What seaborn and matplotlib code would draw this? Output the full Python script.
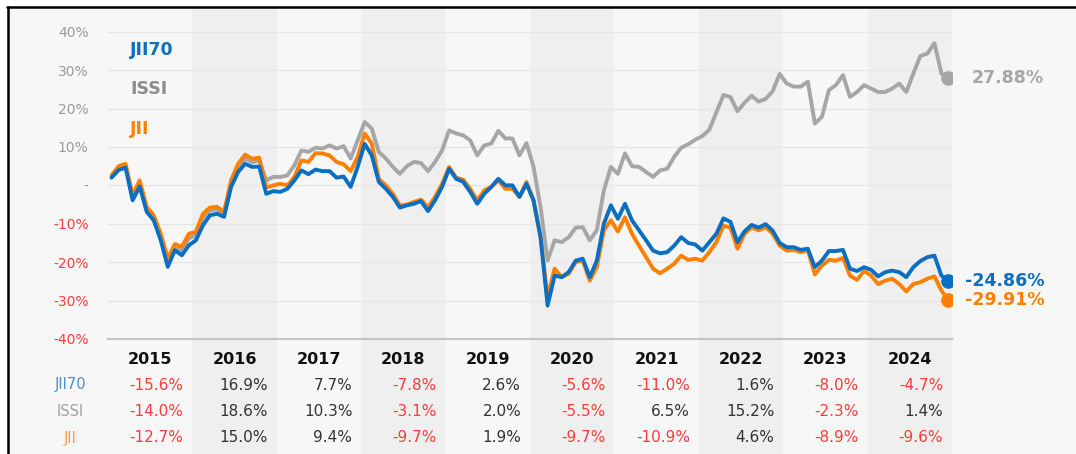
import matplotlib.pyplot as plt
import matplotlib.transforms as mtransforms
from matplotlib.patches import Rectangle
from matplotlib.lines import Line2D
import seaborn as sns
import pandas as pd
import numpy as np

# 데이터: 월별 누적 수익률 (%), 2015.01 ~ 2024.12
years = list(range(2015, 2025))
series_names = ['JII70', 'ISSI', 'JII']
line_colors = {'JII70': '#0a6fc2', 'ISSI': '#a6a6a6', 'JII': '#ff8000'}
label_colors = {'JII70': '#4a90d0', 'ISSI': '#a0a0a0', 'JII': '#ff9a3c'}

jii70 = [2.0, 4.0, 4.6, -3.9, -0.3, -6.9, -9.1, -14.3, -21.2, -16.9, -18.2, -15.6,
         -14.3, -10.4, -7.8, -7.4, -8.2, -0.4, 3.5, 5.6, 4.8, 4.9, -2.2, -1.5,
         -1.7, -0.9, 1.3, 3.9, 2.9, 4.1, 3.7, 3.7, 2.0, 2.3, -0.4, 4.8,
         10.8, 7.8, 0.9, -0.9, -3.0, -5.8, -5.2, -4.8, -4.1, -6.7, -3.9, -0.4,
         4.3, 1.7, 0.9, -1.7, -4.8, -2.2, -0.4, 1.7, 0.0, 0.0, -3.0, 0.4,
         -3.9, -13.5, -31.3, -23.5, -23.9, -22.6, -19.6, -19.1, -23.9, -19.6, -10.0, -5.2,
         -8.7, -4.8, -9.1, -11.7, -14.3, -17.0, -17.7, -17.4, -15.7, -13.5, -15.0, -15.4,
         -17.0, -14.8, -12.6, -8.6, -9.5, -14.8, -12.0, -10.3, -11.0, -10.1, -11.8, -15.0,
         -16.1, -16.1, -16.8, -16.5, -21.3, -19.6, -17.1, -17.1, -16.8, -21.7, -22.3, -21.3,
         -22.0, -23.7, -22.6, -22.2, -22.6, -23.9, -21.3, -19.7, -18.7, -18.3, -23.5, -24.86]

issi = [2.3, 4.5, 5.0, -3.0, 0.8, -6.0, -8.3, -13.2, -20.0, -16.0, -17.0, -13.8,
        -13.0, -8.5, -6.5, -6.3, -7.5, 0.5, 4.5, 7.0, 6.0, 6.5, 1.3, 2.2,
        2.2, 2.6, 5.2, 9.1, 8.7, 9.8, 9.6, 10.4, 9.6, 10.2, 7.0, 11.7,
        16.5, 14.8, 8.7, 7.0, 4.8, 3.0, 5.0, 6.1, 5.8, 3.7, 6.1, 9.1,
        14.3, 13.5, 13.0, 11.7, 7.8, 10.4, 10.9, 14.2, 12.2, 12.2, 7.8, 11.0,
        4.8, -5.7, -19.6, -14.3, -14.8, -13.5, -11.0, -10.9, -14.3, -11.7, -1.3, 4.8,
        3.0, 8.3, 5.0, 4.8, 3.5, 2.2, 3.9, 4.3, 7.4, 9.8, 10.7, 11.9,
        12.8, 14.5, 19.0, 23.5, 23.0, 19.3, 21.5, 23.3, 21.8, 22.5, 24.5, 29.0,
        26.5, 25.7, 25.7, 27.0, 16.1, 17.8, 24.8, 26.1, 28.7, 23.0, 24.3, 26.1,
        25.2, 24.3, 24.3, 25.2, 26.5, 24.3, 29.1, 33.7, 34.3, 37.0, 29.1, 27.88]

jii = [2.6, 5.0, 5.6, -2.6, 1.3, -5.6, -7.8, -12.6, -19.0, -15.3, -16.0, -12.6,
       -12.1, -7.4, -5.8, -5.6, -6.9, 1.3, 5.6, 8.0, 6.9, 7.2, -0.6, 0.0,
       0.4, 0.0, 2.2, 6.5, 6.1, 8.4, 8.3, 7.8, 6.1, 5.5, 3.7, 7.4,
       13.5, 10.9, 1.7, 0.0, -2.2, -5.2, -5.0, -4.3, -3.7, -5.7, -3.0, 0.4,
       4.8, 2.0, 1.5, -0.9, -3.9, -1.3, -0.4, 1.3, -0.9, -0.9, -3.0, 0.9,
       -3.9, -13.5, -29.1, -21.7, -23.9, -23.0, -20.0, -19.6, -24.8, -21.3, -11.7, -9.1,
       -12.0, -8.3, -12.6, -15.7, -18.7, -21.7, -22.9, -21.7, -20.4, -18.3, -19.4, -19.1,
       -19.6, -17.4, -14.8, -10.5, -11.0, -16.5, -12.6, -11.0, -11.7, -10.9, -12.6, -15.7,
       -17.0, -16.8, -17.4, -16.8, -23.2, -20.9, -19.4, -19.6, -18.9, -23.5, -24.6, -22.3,
       -23.5, -25.7, -24.8, -24.3, -25.7, -27.6, -25.7, -25.2, -24.3, -23.7, -27.4, -29.91]

# 연간 수익률 표 (%)
annual_jii70 = [-15.6, 16.9, 7.7, -7.8, 2.6, -5.6, -11.0, 1.6, -8.0, -4.7]
annual_issi = [-14.0, 18.6, 10.3, -3.1, 2.0, -5.5, 6.5, 15.2, -2.3, 1.4]
annual_jii = [-12.7, 15.0, 9.4, -9.7, 1.9, -9.7, -10.9, 4.6, -8.9, -9.6]

series = {'JII70': jii70, 'ISSI': issi, 'JII': jii}
annual = {'JII70': annual_jii70, 'ISSI': annual_issi, 'JII': annual_jii}

n = len(jii70)
t = 2015 + (np.arange(n) + 0.5) / 12
df = pd.DataFrame({
    't': np.tile(t, 3),
    'value': np.concatenate([jii70, issi, jii]),
    'index': np.repeat(series_names, n),
})

# 스타일
sns.set_theme(style='white')
plt.rcParams['font.family'] = ['DejaVu Sans']

W, H = 1076, 454
bg = '#f7f7f7'
fig = plt.figure(figsize=(W / 100, H / 100), dpi=100, facecolor=bg)
ax = fig.add_axes([108 / W, (H - 339) / H, 844 / W, (339 - 31.7) / H])
ax.set_facecolor('none')
ax.set_xlim(2015, 2025)
ax.set_ylim(-40, 40)

# 짝수 해 음영 (표까지 이어짐)
band_tr = mtransforms.blended_transform_factory(ax.transData, fig.transFigure)
for i, y in enumerate(years):
    if i % 2 == 1:
        fig.add_artist(Rectangle((y, 0), 1, (H - 8) / H, transform=band_tr,
                                 facecolor='#efefef', edgecolor='none', zorder=-1))

# 라인
sns.lineplot(data=df, x='t', y='value', hue='index', hue_order=['ISSI', 'JII', 'JII70'],
             palette=line_colors, linewidth=2.8, legend=False, ax=ax)
for line in ax.lines:
    line.set_solid_joinstyle('round')
    line.set_solid_capstyle('round')

# 끝점 + 라벨
for name in ['ISSI', 'JII', 'JII70']:
    v = series[name][-1]
    ax.plot(t[-1], v, 'o', ms=9.5, color=line_colors[name], zorder=5)
    off = 17 if v > 0 else 12
    ax.annotate(f'{v:.2f}%', xy=(t[-1], v), xytext=(off, 0), textcoords='offset points',
                ha='left', va='center', fontsize=12.5, fontweight='bold',
                color=line_colors[name], annotation_clip=False)

# 축 꾸미기
ax.set_xlabel('')
ax.set_ylabel('')
yt = list(range(-40, 41, 10))
ax.set_yticks(yt)
ax.set_yticklabels(['-' if v == 0 else f'{v}%' for v in yt])
for lab, v in zip(ax.get_yticklabels(), yt):
    lab.set_color('#ff3b3b' if v < 0 else '#9a9a9a')
ax.tick_params(axis='y', length=0, pad=14, labelsize=10)
ax.set_xticks(range(2015, 2026))
ax.set_xticklabels([])
ax.tick_params(axis='x', direction='inout', length=8, width=1.2, color='#bbbbbb')
ax.yaxis.grid(True, color='#e6e6e6', linewidth=1)
ax.set_axisbelow(True)
for s in ['left', 'right', 'top']:
    ax.spines[s].set_visible(False)
ax.spines['bottom'].set_color('#c4c4c4')
ax.spines['bottom'].set_linewidth(1.5)

# 범례 텍스트
for name, ypx in zip(series_names, [50, 89, 129]):
    c = '#8c8c8c' if name == 'ISSI' else line_colors[name]
    fig.text(130 / W, 1 - ypx / H, name, ha='left', va='center', fontsize=12.5,
             fontweight='bold', color=c)

# 연도 + 연간 수익률 표
for y in years:
    ax.text(y + 0.5, 1 - 359 / H, str(y), transform=band_tr, ha='center', va='center',
            fontsize=11.5, fontweight='bold', color='#111111')
for name, ypx in zip(series_names, [385, 411, 438]):
    fig.text(70 / W, 1 - ypx / H, name, ha='center', va='center', fontsize=10.5,
             color=label_colors[name])
    for y, v in zip(years, annual[name]):
        ax.text(y + 0.895, 1 - ypx / H, f'{v:.1f}%', transform=band_tr, ha='right',
                va='center', fontsize=11, color='#ff3b3b' if v < 0 else '#333333')

# 테두리 (위/왼쪽)
fig.add_artist(Rectangle((0, (H - 6) / H), 1, 6 / H, transform=fig.transFigure,
                         facecolor='white', edgecolor='none', zorder=10))
fig.add_artist(Rectangle((0, 0), 7 / W, 1, transform=fig.transFigure,
                         facecolor='white', edgecolor='none', zorder=10))
fig.add_artist(Line2D([7 / W, 1], [(H - 7) / H, (H - 7) / H], transform=fig.transFigure,
                      color='black', linewidth=1.8, zorder=11))
fig.add_artist(Line2D([8 / W, 8 / W], [0, (H - 7) / H], transform=fig.transFigure,
                      color='black', linewidth=1.8, zorder=11))

fig.savefig('out.png', dpi=100, facecolor=fig.get_facecolor())
